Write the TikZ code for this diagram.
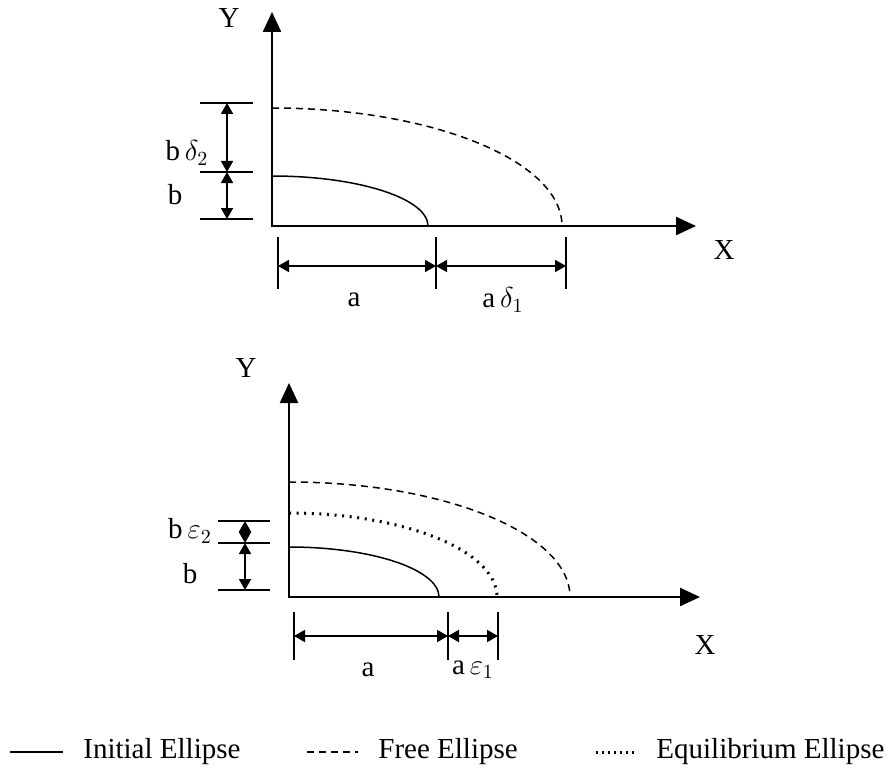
\documentclass[tikz,border=0pt]{standalone}
\usepackage{fontspec}
\setmainfont{Liberation Serif}
\usetikzlibrary{arrows.meta,calc}

\begin{document}
\begin{tikzpicture}[x=0.5pt,y=0.5pt]

\tikzset{axis/.style = {line width=1.2pt,{Triangle[length=10pt,width=9pt]}-{Triangle[length=10pt,width=9pt]}}}
\tikzset{dim/.style = {line width=0.9pt,{Triangle[length=5.5pt,width=6pt]}-{Triangle[length=5.5pt,width=6pt]}}}
\tikzset{tick/.style = {line width=0.9pt}}
\tikzset{initial/.style = {line width=0.75pt}}
\tikzset{free/.style = {line width=0.75pt,dash pattern=on 3.5pt off 2.5pt}}
\tikzset{equil/.style = {line width=1.5pt,dash pattern=on 1pt off 2.8pt}}
\tikzset{lbl/.style = {font=\fontsize{14.5}{17}\selectfont,inner sep=0pt}}

\useasboundingbox (0,0) rectangle (886,767);

% upper picture: axes
\coordinate (o1) at (272,541);
\coordinate (y1) at (272,755);
\coordinate (x1) at (696,541);
\draw[axis] (y1) -- (o1) -- (x1);
\node[lbl] (ylab1) at (229,749) {Y};
\node[lbl] (xlab1) at (724,517) {X};

% upper picture: ellipses
\draw[initial] ($(o1)+(0,50)$) arc[start angle=90,end angle=0,x radius=156,y radius=50];
\draw[free] ($(o1)+(0,118)$) arc[start angle=90,end angle=0,x radius=290,y radius=118];

% upper picture: dimensions
\foreach \h in {664,595,548}
  \draw[tick] (200,\h) -- (253,\h);
\coordinate (p1) at (227,664);
\coordinate (p2) at (227,595);
\coordinate (p3) at (227,548);
\draw[dim] (p1) -- (p2);
\draw[dim] (p2) -- (p3);
\node[lbl] (bd2) at (187,614) {b\,$\delta_2$};
\node[lbl] (b1) at (175,572) {b};

\foreach \v in {278,436,566}
  \draw[tick] (\v,530) -- (\v,478);
\coordinate (q1) at (278,501);
\coordinate (q2) at (436,501);
\coordinate (q3) at (566,501);
\draw[dim] (q1) -- (q2);
\draw[dim] (q2) -- (q3);
\node[lbl] (a1) at (354,467) {a};
\node[lbl] (ad1) at (503,467) {a\,$\delta_1$};

% lower picture: axes
\coordinate (o2) at (289,170);
\coordinate (y2) at (289,384);
\coordinate (x2) at (700,170);
\draw[axis] (y2) -- (o2) -- (x2);
\node[lbl] (ylab2) at (246,399) {Y};
\node[lbl] (xlab2) at (705,122) {X};

% lower picture: ellipses
\draw[initial] ($(o2)+(0,50)$) arc[start angle=90,end angle=0,x radius=150,y radius=50];
\draw[equil] ($(o2)+(0,84)$) arc[start angle=90,end angle=0,x radius=208,y radius=84];
\draw[free] ($(o2)+(0,115)$) arc[start angle=90,end angle=0,x radius=281,y radius=115];

% lower picture: dimensions
\foreach \h in {246,224,177}
  \draw[tick] (218,\h) -- (270,\h);
\coordinate (r1) at (245,246);
\coordinate (r2) at (245,224);
\coordinate (r3) at (245,177);
\draw[dim] (r1) -- (r2);
\draw[dim] (r2) -- (r3);
\node[lbl] (be2) at (190,236) {b\,$\varepsilon_2$};
\node[lbl] (b2) at (190,193) {b};

\foreach \v in {294,448,498}
  \draw[tick] (\v,155) -- (\v,107);
\coordinate (s1) at (294,131);
\coordinate (s2) at (448,131);
\coordinate (s3) at (498,131);
\draw[dim] (s1) -- (s2);
\draw[dim] (s2) -- (s3);
\node[lbl] (a2) at (368,97) {a};
\node[lbl] (ae1) at (473,97) {a\,$\varepsilon_1$};

% legend
\coordinate (l1a) at (10,15);
\coordinate (l1b) at (63,15);
\draw[initial] (l1a) -- (l1b);
\node[lbl,anchor=west] (leg1) at (83,15) {Initial Ellipse};
\coordinate (l2a) at (307,15);
\coordinate (l2b) at (358,15);
\draw[free] (l2a) -- (l2b);
\node[lbl,anchor=west] (leg2) at (378,15) {Free Ellipse};
\coordinate (l3a) at (596,15);
\coordinate (l3b) at (638,15);
\draw[equil,dash pattern=on 1pt off 2pt] (l3a) -- (l3b);
\node[lbl,anchor=west] (leg3) at (656,15) {Equilibrium Ellipse};

\end{tikzpicture}
\end{document}
